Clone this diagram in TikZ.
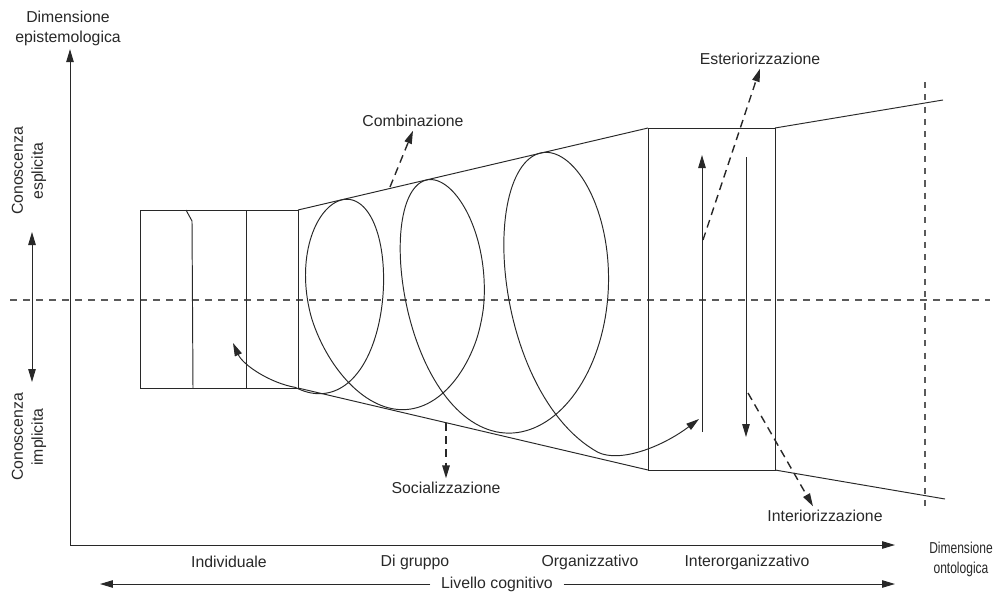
\documentclass[tikz,border=0pt]{standalone}
\usepackage{fontspec}
\setmainfont{Liberation Sans}
\usetikzlibrary{arrows.meta, calc}
\definecolor{inkgray}{RGB}{40, 40, 40}
\definecolor{guidegray}{RGB}{90, 90, 90}

\begin{document}
\begin{tikzpicture}[x=0.02cm, y=-0.02cm,
    font=\fontsize{9}{11.3}\selectfont, text=inkgray,
    >={Triangle[length=2.6mm, width=1.5mm]},
    line/.style={draw=inkgray, line width=0.55pt},
    guide/.style={draw=guidegray, line width=0.6pt, dash pattern=on 4pt off 3.4pt},
    flow/.style={->, draw=inkgray, line width=0.8pt, dash pattern=on 4.5pt off 3pt},
    lab/.style={align=center, inner sep=2pt},
    declare function={
      spc(\t)=348+0.1889*\t+(\t/90)*(\t/90);
      spw(\t)=56+0.00833*\t+20*(\t/720)*(\t/720);
      spd(\t)=max(-5,min(5,0.06*\t-11));
      spe(\t)=min(20,max(0,0.08*\t));
      spx(\t)=spc(\t)-spw(\t)*sin(\t)+spd(\t)*sin(\t)*sin(\t)+spe(\t)*(1-cos(\t))/2;
      spy(\t)=300-(89+0.2343*(spc(\t)-298))*cos(\t);
    }]
  \useasboundingbox (0,0) rectangle (995,596);

  % assi
  \coordinate (O) at (70,545);
  \node[lab] (epist) at (68,28) {Dimensione\\epistemologica};
  \node[lab, inner sep=1pt] (ontol) at (961,559)
    {\scalebox{0.76}[1]{Dimensione}\\\scalebox{0.76}[1]{ontologica}};
  \draw[line, ->] (O) -- (O |- epist.south);
  \draw[line, ->] (O) -- (895,545);

  % livelli ontologici
  \node[lab] (indiv) at (229,562) {Individuale};
  \node[lab] (grupp) at (415,562) {Di gruppo};
  \node[lab] (organ) at (590,562) {Organizzativo};
  \node[lab] (inter) at (747,562) {Interorganizzativo};
  \node[lab, inner sep=6pt] (cogn) at (497,584) {Livello cognitivo};
  \draw[line, ->] (cogn.west) -- (100,584);
  \draw[line, ->] (cogn.east) -- (895,584);

  % conoscenza esplicita / implicita
  \node[lab, rotate=90] (esplic) at (29,171) {Conoscenza\\esplicita};
  \node[lab, rotate=90] (implic) at (29,437) {Conoscenza\\implicita};
  \draw[line, <->] (32,232) -- (32,382);

  % linee guida tratteggiate
  \draw[guide] (10,300) -- (990,300);
  \draw[guide, dash pattern=on 3.5pt off 3.5pt] (925,82) -- (925,512);

  % blocco individuale
  \draw[line] (140,210) rectangle (298,388);
  \draw[line] (186,210) -- (192,221) -- (193,388);
  \draw[line] (246,210) -- (246,388);

  % imbuto
  \draw[line] (298,210) -- (648,128);
  \draw[line] (298,388) -- (648,470);
  \draw[line] (648,128) rectangle (775,470);
  \draw[line] (775,128) -- (943,100);
  \draw[line] (775,470) -- (945,499);

  % spirale
  \coordinate (tipL) at (233,343);
  \coordinate (tipR) at (699,419);
  \coordinate (sp0) at ({spx(-200)},{spy(-200)});
  \draw[line, <->] (tipL) .. controls (243,365) and (270,383) .. (sp0)
    -- plot[domain=-200:880, samples=400] ({spx(\x)},{spy(\x)})
    .. controls (620,463) and (662,447) .. (tipR);

  % esteriorizzazione / interiorizzazione
  \draw[line, ->] (702,432) -- (702,155);
  \draw[line, ->] (746,157) -- (746,437);

  % modi di conversione
  \node[lab] (comb) at (413,121) {Combinazione};
  \node[lab] (ester) at (760,59) {Esteriorizzazione};
  \node[lab] (social) at (446,488) {Socializzazione};
  \node[lab] (interi) at (825,516) {Interiorizzazione};
  \coordinate (combfrom) at (390,187);
  \coordinate (esterfrom) at (703,240);
  \coordinate (socialfrom) at (446,423);
  \coordinate (interifrom) at (748,393);
  \draw[flow] (combfrom) -- (comb.south);
  \draw[flow] (esterfrom) -- (ester.south);
  \draw[flow] (socialfrom) -- (social.north);
  \draw[flow] (interifrom) -- ($(interi.north)+(-12,0)$);
\end{tikzpicture}
\end{document}
